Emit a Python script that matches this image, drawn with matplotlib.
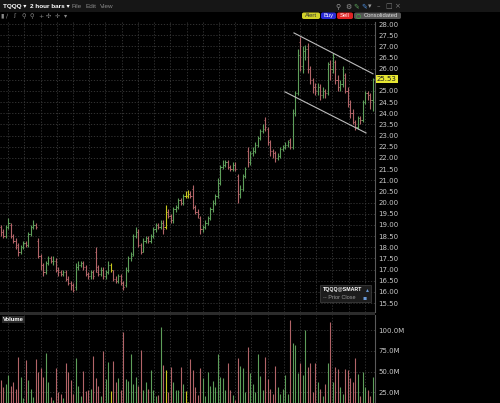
import matplotlib

matplotlib.use("Agg")

import matplotlib.pyplot as plt
import numpy as np
from matplotlib.patches import FancyBboxPatch, Rectangle

# 2-hour OHLC bars for TQQQ
opens = [
    18.9, 18.7, 18.5, 18.9, 19.0, 18.5, 18.3, 18.1, 17.8, 18.0,
    18.2, 18.1, 18.6, 18.9, 19.0, 18.3, 17.6, 17.2, 16.9, 17.3,
    17.5, 17.4, 17.4, 17.0, 16.9, 16.8, 16.9, 16.6, 16.4, 16.3,
    16.2, 17.1, 17.2, 17.3, 17.1, 16.8, 16.7, 16.9, 17.8, 17.1,
    16.8, 17.0, 16.7, 16.9, 17.2, 17.0, 16.6, 16.5, 16.7, 16.4,
    16.3, 17.0, 17.5, 17.7, 18.5, 18.7, 18.1, 17.8, 18.3, 18.4,
    18.3, 18.5, 18.8, 19.0, 18.9, 19.1, 18.9, 19.6, 19.4, 19.2,
    19.7, 19.8, 20.1, 20.0, 20.3, 20.3, 20.4, 20.6, 19.8, 19.6,
    19.3, 18.8, 18.9, 19.1, 19.3, 19.7, 20.0, 20.3, 20.9, 21.6,
    21.7, 21.8, 21.6, 21.5, 21.7, 21.2, 20.4, 20.6, 21.2, 22.3,
    21.8, 22.2, 22.3, 22.6, 22.9, 23.2, 23.7, 23.3, 22.7, 22.3,
    22.2, 22.0, 22.1, 22.4, 22.5, 22.6, 22.8, 22.5, 24.0, 24.9,
    27.2, 26.1, 26.8, 26.9, 26.0, 25.5, 25.2, 25.0, 25.2, 24.8,
    25.0, 24.9, 26.2, 26.0, 26.3, 25.5, 25.2, 25.3, 25.7, 25.0,
    24.4, 24.0, 23.6, 23.4, 23.8, 23.7, 24.5, 24.9, 24.8, 24.6,
]
highs = [
    19.0, 18.8, 19.0, 19.3, 19.1, 18.6, 18.4, 18.2, 18.1, 18.3,
    18.3, 18.7, 19.0, 19.2, 19.1, 18.4, 17.7, 17.3, 17.4, 17.6,
    17.6, 17.6, 17.5, 17.1, 17.0, 17.0, 17.0, 16.7, 16.5, 16.4,
    17.3, 17.4, 17.4, 17.4, 17.2, 16.9, 17.0, 17.0, 18.0, 17.2,
    17.1, 17.1, 17.0, 17.4, 17.3, 17.0, 16.7, 16.8, 16.8, 16.5,
    17.1, 17.6, 17.8, 18.6, 18.9, 18.8, 18.2, 18.4, 18.5, 18.5,
    18.6, 18.9, 19.1, 19.1, 19.2, 19.2, 19.9, 19.7, 19.5, 19.8,
    19.9, 20.2, 20.2, 20.4, 20.5, 20.55, 20.5, 20.8, 19.9, 19.7,
    19.4, 19.0, 19.2, 19.4, 19.8, 20.1, 20.4, 21.1, 21.7, 21.9,
    21.9, 21.9, 21.7, 21.8, 21.8, 21.3, 20.8, 21.3, 21.6, 22.5,
    22.3, 22.5, 22.7, 23.0, 23.3, 23.5, 23.85, 23.4, 22.8, 22.4,
    22.3, 22.2, 22.5, 22.6, 22.7, 22.8, 22.9, 24.2, 25.0, 26.9,
    27.4, 27.0, 27.05, 27.15, 26.1, 25.6, 25.35, 25.35, 25.3, 25.2,
    25.1, 26.3, 26.4, 26.7, 26.4, 25.7, 25.5, 26.1, 25.8, 25.2,
    24.6, 24.2, 23.7, 23.9, 23.9, 24.6, 25.0, 25.0, 24.9, 25.6,
]
lows = [
    18.5, 18.4, 18.4, 18.8, 18.4, 18.2, 17.9, 17.6, 17.7, 17.9,
    18.0, 18.0, 18.5, 18.8, 18.8, 17.5, 17.0, 16.7, 16.8, 17.2,
    17.3, 17.2, 16.9, 16.7, 16.7, 16.7, 16.5, 16.3, 16.1, 16.0,
    16.1, 17.0, 17.1, 17.0, 16.7, 16.6, 16.6, 16.6, 16.9, 16.7,
    16.7, 16.6, 16.6, 16.8, 16.9, 16.5, 16.4, 16.4, 16.3, 16.1,
    16.2, 16.9, 17.4, 17.6, 18.4, 18.0, 17.7, 17.8, 18.2, 18.2,
    18.2, 18.4, 18.7, 18.8, 18.8, 18.6, 18.8, 19.3, 19.1, 19.1,
    19.6, 19.7, 19.9, 19.9, 20.2, 20.2, 20.2, 19.7, 19.5, 19.3,
    18.6, 18.7, 18.8, 19.0, 19.2, 19.6, 19.9, 20.2, 20.8, 21.5,
    21.6, 21.5, 21.4, 21.4, 21.4, 20.0, 20.2, 20.5, 21.1, 21.6,
    21.7, 22.1, 22.2, 22.5, 22.8, 23.1, 23.2, 22.6, 22.1, 22.0,
    21.8, 21.9, 22.0, 22.3, 22.4, 22.5, 22.4, 22.4, 23.9, 24.8,
    25.9, 25.8, 26.4, 25.8, 25.3, 24.9, 24.8, 24.8, 24.6, 24.7,
    24.7, 24.8, 25.5, 25.8, 25.3, 25.0, 25.0, 25.2, 24.9, 24.3,
    23.8, 23.5, 23.25, 23.3, 23.5, 23.6, 24.4, 24.6, 24.2, 24.1,
]
closes = [
    18.7, 18.5, 18.9, 19.1, 18.5, 18.3, 18.0, 17.8, 18.0, 18.2,
    18.1, 18.6, 18.9, 19.0, 18.9, 17.6, 17.2, 16.9, 17.3, 17.5,
    17.4, 17.4, 17.0, 16.9, 16.8, 16.9, 16.6, 16.4, 16.3, 16.1,
    17.1, 17.2, 17.3, 17.1, 16.8, 16.7, 16.9, 16.7, 16.9, 16.8,
    17.0, 16.7, 16.9, 17.2, 17.0, 16.6, 16.5, 16.7, 16.4, 16.2,
    17.0, 17.5, 17.6, 18.5, 18.7, 18.1, 17.8, 18.3, 18.4, 18.3,
    18.5, 18.8, 19.0, 18.9, 19.1, 18.8, 19.6, 19.4, 19.2, 19.7,
    19.8, 20.1, 20.0, 20.3, 20.3, 20.4, 20.3, 19.8, 19.6, 19.5,
    18.8, 18.9, 19.1, 19.3, 19.7, 20.0, 20.3, 20.9, 21.6, 21.7,
    21.8, 21.6, 21.5, 21.7, 21.5, 20.4, 20.6, 21.2, 21.5, 21.8,
    22.2, 22.3, 22.6, 22.9, 23.2, 23.3, 23.4, 22.7, 22.3, 22.2,
    22.0, 22.1, 22.4, 22.5, 22.6, 22.7, 22.5, 24.0, 24.9, 26.6,
    26.1, 26.8, 26.9, 26.0, 25.5, 25.2, 25.0, 25.2, 24.8, 25.0,
    24.9, 26.2, 26.0, 26.5, 25.5, 25.2, 25.3, 25.6, 25.0, 24.4,
    24.0, 23.6, 23.4, 23.8, 23.7, 24.5, 24.9, 24.8, 24.6, 25.53,
]
volumes_m = [
    40, 31, 35, 46, 33, 37, 29, 68, 44, 18,
    64, 40, 29, 19, 65, 50, 54, 44, 73, 38,
    19, 16, 54, 25, 23, 18, 60, 50, 40, 23,
    66, 33, 21, 51, 27, 28, 29, 69, 42, 33,
    20, 75, 41, 62, 27, 63, 37, 42, 28, 98,
    41, 39, 71, 35, 43, 33, 76, 28, 38, 29,
    52, 28, 20, 22, 104, 58, 52, 25, 55, 37,
    28, 28, 56, 35, 27, 13, 65, 52, 32, 22,
    54, 42, 21, 50, 33, 39, 31, 71, 44, 42,
    28, 60, 28, 22, 16, 66, 57, 54, 25, 80,
    48, 35, 25, 71, 45, 28, 68, 41, 29, 23,
    57, 31, 23, 29, 46, 23, 112, 84, 82, 48,
    60, 46, 100, 56, 61, 25, 61, 37, 29, 20,
    35, 60, 110, 38, 56, 53, 32, 23, 53, 52,
    42, 38, 66, 47, 21, 50, 31, 28, 20, 44,
]
highlight_bars = [44, 66, 74, 75]
channel_upper = [(117.5, 27.60), (149.2, 25.77)]
channel_lower = [(113.9, 24.96), (146.4, 23.12)]
last_price = 25.53
price_ticks = np.arange(15.5, 28.01, 0.5)
volume_ticks = [25, 50, 75, 100]

W, H = 500, 403
GREEN = "#5d9e5a"
RED = "#b26468"
YELLOW = "#c8c81e"
GRID = "#3a3a3a"
AXIS = "#5a5a5a"
LABEL = "#c8c8c8"
UI = ["Liberation Sans", "DejaVu Sans"]

plt.rcParams["font.family"] = ["DejaVu Sans"]

fig = plt.figure(figsize=(W / 100, H / 100), dpi=100, facecolor="black")


def px_axes(x0, y0, x1, y1):
    return fig.add_axes([x0 / W, 1 - y1 / H, (x1 - x0) / W, (y1 - y0) / H])


def px(x, y):
    return x / W, 1 - y / H


idx = np.arange(len(closes))
o = np.array(opens)
c = np.array(closes)
colors = np.where(c >= o, GREEN, RED).astype(object)
for i in highlight_bars:
    colors[i] = YELLOW
colors = list(colors)
vgrid = np.arange(2.9, len(closes), 6.5)

# price panel
ax = px_axes(0, 22, 374.5, 312)
ax.set_facecolor("black")
ax.set_xlim(-0.4, 149.8)
ax.set_ylim(15.10, 28.09)
ax.vlines(idx, lows, highs, colors=colors, lw=0.8)
ax.hlines(opens, idx - 0.45, idx, colors=colors, lw=0.7)
ax.hlines(closes, idx, idx + 0.45, colors=colors, lw=0.7)
for (x0, y0), (x1, y1) in [channel_upper, channel_lower]:
    ax.plot([x0, x1], [y0, y1], color="#bdbdbd", lw=0.8)
ax.set_xticks(vgrid)
ax.set_yticks(price_ticks)
# the 25.50 label sits under the last-price tag
ax.set_yticklabels(["" if abs(t - 25.5) < 1e-6 else f"{t:.2f}" for t in price_ticks])
ax.grid(True, color=GRID, lw=0.6, ls=(0, (1.5, 2)))
ax.yaxis.tick_right()
ax.tick_params(axis="y", length=0, pad=3, labelsize=5, labelcolor=LABEL)
ax.tick_params(axis="x", length=0, labelbottom=False)
for side in ["top", "left", "bottom"]:
    ax.spines[side].set_visible(False)
ax.spines["right"].set_color(AXIS)
ax.spines["right"].set_linewidth(0.8)

# volume panel
axv = px_axes(0, 315, 374.5, 403)
axv.set_facecolor("black")
axv.set_xlim(-0.4, 149.8)
axv.set_ylim(12.1, 118.4)
axv.vlines(idx, 0, volumes_m, colors=colors, lw=0.8)
axv.set_xticks(vgrid)
axv.set_yticks(volume_ticks)
axv.set_yticklabels([f"{v:.1f}M" for v in volume_ticks])
axv.grid(True, color=GRID, lw=0.6, ls=(0, (1.5, 2)))
axv.yaxis.tick_right()
axv.tick_params(axis="y", length=0, pad=3, labelsize=5, labelcolor=LABEL)
axv.tick_params(axis="x", length=0, labelbottom=False)
for side in ["top", "left", "bottom"]:
    axv.spines[side].set_visible(False)
axv.spines["right"].set_color(AXIS)
axv.spines["right"].set_linewidth(0.8)

# panel separator
fig.add_artist(Rectangle(px(0, 315), 374.5 / W, 3 / H, transform=fig.transFigure,
                         fc="#2c2c2c", ec="none"))

# header bar
fig.add_artist(Rectangle(px(0, 12), 1, 12 / H, transform=fig.transFigure,
                         fc="#161616", ec="none"))
fig.text(*px(3, 6.5), "TQQQ ▾", color="white", fontsize=4.6, weight="bold",
         va="center", family=UI)
fig.text(*px(30, 6.5), "2 hour bars ▾", color="white", fontsize=4.6, weight="bold",
         va="center", family=UI)
for x, s in [(72, "File"), (86, "Edit"), (100, "View")]:
    fig.text(*px(x, 6.5), s, color="#8a8a8a", fontsize=4.6, va="center", family=UI)
for x, s, col in [(335, "⚲", "#9a9a9a"), (345, "⚙", "#9a9a9a"), (353, "✎", "#5aa05a"),
                  (361, "✎", "#4a8ad8"), (368, "▾", "#9a9a9a"), (377, "–", "#7a7a7a"),
                  (385, "□", "#7a7a7a"), (394, "×", "#7a7a7a")]:
    fig.text(*px(x, 6.5), s, color=col, fontsize=5, va="center")

# toolbar icons
for x, s in [(0, "▮"), (6, "∕"), (13, "ʃ"), (21, "⚲"), (30, "⚲"), (38, "+"),
             (46, "✣"), (55, "✛"), (64, "▾")]:
    fig.text(*px(x, 16), s, color="#8a8a8a", fontsize=4.5, va="center")

for x0, x1, fc, tc, label in [(302, 320, "#d2d22a", "#333333", "Alert"),
                              (321, 336, "#2b2bd6", "white", "Buy"),
                              (337, 353, "#e02424", "white", "Sell"),
                              (354, 401, "#555555", "#dddddd", "Consolidated")]:
    fig.add_artist(FancyBboxPatch(px(x0, 19), (x1 - x0) / W, 6.5 / H,
                                  boxstyle="round,pad=0,rounding_size=0.004",
                                  transform=fig.transFigure, fc=fc, ec="none"))
    cx = (x0 + x1) / 2 + (3.5 if label == "Consolidated" else 0)
    fig.text(*px(cx, 15.8), label, color=tc, fontsize=4.2, ha="center", va="center",
             family=UI)
fig.text(*px(355.5, 15.8), "○", color="#3cc83c", fontsize=4.2, va="center")

# last price tag
fig.text(*px(377, 79), f"{last_price:.2f}", color="#202020", fontsize=5, va="center",
         bbox=dict(boxstyle="square,pad=0.15", fc="#e6e632", ec="none"))

# legend box
fig.add_artist(Rectangle(px(320, 302), 51 / W, 17 / H, transform=fig.transFigure,
                         fc="#1c1c1c", ec="#444444", lw=0.5))
fig.text(*px(323, 289.5), "TQQQ@SMART", color="white", fontsize=3.8, weight="bold",
         va="center", family=UI)
fig.text(*px(366, 289.5), "▴", color="#6a9ad8", fontsize=4.2, va="center")
fig.text(*px(323, 297.5), "-- Prior Close", color="#9a9a9a", fontsize=4.0, va="center",
         family=UI)
fig.text(*px(362, 297.5), "▪", color="#6a9ad8", fontsize=4.5, va="center")

# volume label
fig.text(*px(3, 319.5), "Volume", color="white", fontsize=4.2, weight="bold", va="center",
         family=UI, bbox=dict(boxstyle="square,pad=0.25", fc="#2a2a2a", ec="none"))

fig.savefig("out.png", dpi=100, facecolor="black")
